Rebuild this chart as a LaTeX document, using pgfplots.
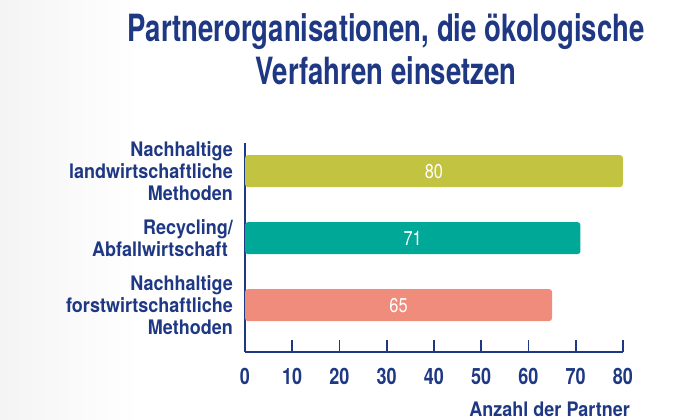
\documentclass[border=0pt]{standalone}
\usepackage{fontspec}
\setmainfont{TeX Gyre Heros}[FakeStretch=0.82]
\newfontfamily\titlefont{TeX Gyre Heros}[FakeStretch=0.734]
\newfontfamily\labelfont{TeX Gyre Heros}[FakeStretch=0.9]
\newfontfamily\tickfont{TeX Gyre Heros}[FakeStretch=0.8]
\usepackage{pgfplots}
\pgfplotsset{compat=1.18}
\definecolor{navy}{RGB}{31,56,132}
\definecolor{olivebar}{RGB}{195,195,66}
\definecolor{tealbar}{RGB}{0,169,151}
\definecolor{salmonbar}{RGB}{240,140,124}
\begin{document}
\begin{tikzpicture}[x=1pt,y=1pt]
\path[use as bounding box] (0,0) rectangle (678,420);
\shade[left color={rgb,255:red,244;green,244;blue,245}, right color=white] (0,0) rectangle (140,420);
\node[anchor=base, text=navy, inner sep=0pt, font=\titlefont\bfseries\fontsize{37.5}{43}\selectfont] at (386,378) {Partnerorganisationen, die ökologische};
\node[anchor=base, text=navy, inner sep=0pt, font=\titlefont\bfseries\fontsize{37.5}{43}\selectfont] at (386,335) {Verfahren einsetzen};
\begin{axis}[
  at={(245pt,68pt)}, anchor=south west,
  scale only axis, width=378pt, height=209pt,
  xmin=0, xmax=80, ymin=-0.70, ymax=2.42,
  axis x line*=bottom, axis y line*=left,
  axis line style={navy, line width=2pt, -},
  xtick={0,10,...,80}, xtick align=inside,
  major tick length=12pt,
  x tick style={navy, line width=1.8pt},
  ytick={0,1,2}, y tick style={draw=none},
  yticklabels={{Nachhaltige\\forstwirtschaftliche\\Methoden},{Recycling/\\Abfallwirtschaft\hspace*{5pt}},{Nachhaltige\\landwirtschaftliche\\Methoden}},
  yticklabel style={align=right, inner sep=0pt, anchor=east, xshift=-12pt, text=navy, font=\labelfont\bfseries\fontsize{20}{22}\selectfont},
  xticklabel style={inner sep=0pt, anchor=north, yshift=-16pt, text=navy, font=\tickfont\bfseries\fontsize{22.5}{24}\selectfont},
  /pgf/number format/assume math mode=true,
  xlabel={Anzahl der Partner},
  xlabel style={at={(axis description cs:1,0)}, anchor=base east, inner sep=0pt, xshift=7pt, yshift=-65pt, text=navy, font=\labelfont\bfseries\fontsize{20}{22}\selectfont},
  /pgf/bar shift=0pt,
  clip=false,
]
\addplot[xbar, bar width=32pt, fill=olivebar, draw=none, rounded corners=3pt] coordinates {(80,2)};
\addplot[xbar, bar width=32pt, fill=tealbar, draw=none, rounded corners=3pt] coordinates {(71,1)};
\addplot[xbar, bar width=32pt, fill=salmonbar, draw=none, rounded corners=3pt] coordinates {(65,0)};
\addplot[draw=none, nodes near coords, point meta=explicit symbolic,
  nodes near coords style={anchor=center, text=white, inner sep=0pt, font=\fontsize{20}{22}\selectfont}]
  coordinates {(40,2) [80] (35.5,1) [71] (32.5,0) [65]};
\end{axis}
\end{tikzpicture}
\end{document}
